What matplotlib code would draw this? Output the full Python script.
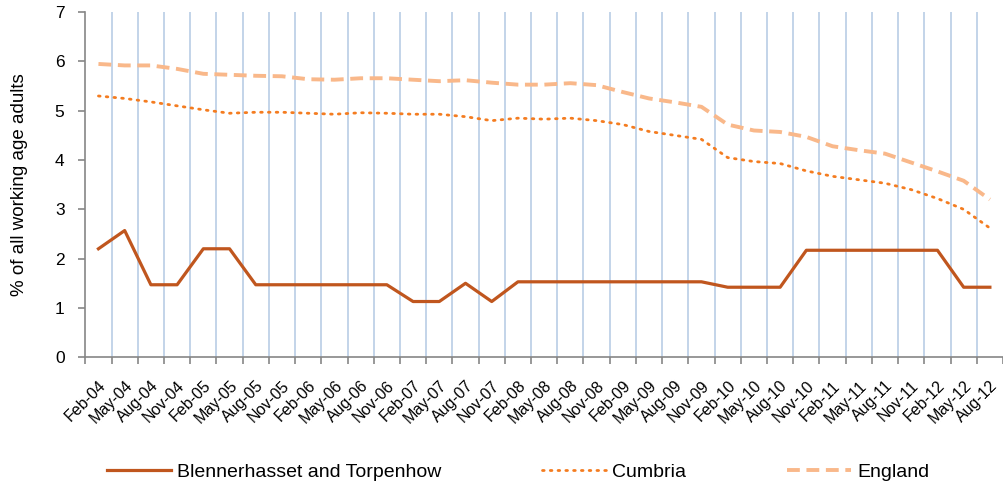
import matplotlib.pyplot as plt
import numpy as np

plt.rcParams['font.family'] = ['Liberation Sans', 'DejaVu Sans']

quarters = ['Feb-04', 'May-04', 'Aug-04', 'Nov-04', 'Feb-05', 'May-05', 'Aug-05', 'Nov-05',
            'Feb-06', 'May-06', 'Aug-06', 'Nov-06', 'Feb-07', 'May-07', 'Aug-07', 'Nov-07',
            'Feb-08', 'May-08', 'Aug-08', 'Nov-08', 'Feb-09', 'May-09', 'Aug-09', 'Nov-09',
            'Feb-10', 'May-10', 'Aug-10', 'Nov-10', 'Feb-11', 'May-11', 'Aug-11', 'Nov-11',
            'Feb-12', 'May-12', 'Aug-12']

blennerhasset = [2.2, 2.57, 1.47, 1.47, 2.2, 2.2, 1.47, 1.47,
                 1.47, 1.47, 1.47, 1.47, 1.13, 1.13, 1.5, 1.13,
                 1.53, 1.53, 1.53, 1.53, 1.53, 1.53, 1.53, 1.53,
                 1.42, 1.42, 1.42, 2.17, 2.17, 2.17, 2.17, 2.17,
                 2.17, 1.42, 1.42]

cumbria = [5.3, 5.25, 5.18, 5.1, 5.02, 4.95, 4.97, 4.97,
           4.95, 4.93, 4.96, 4.95, 4.93, 4.93, 4.88, 4.8,
           4.85, 4.83, 4.85, 4.8, 4.72, 4.58, 4.5, 4.42,
           4.05, 3.97, 3.93, 3.78, 3.67, 3.6, 3.53, 3.4,
           3.22, 3.0, 2.62]

england = [5.95, 5.92, 5.92, 5.85, 5.75, 5.73, 5.71, 5.7,
           5.64, 5.63, 5.66, 5.66, 5.63, 5.6, 5.62, 5.57,
           5.53, 5.53, 5.56, 5.52, 5.38, 5.25, 5.17, 5.08,
           4.72, 4.6, 4.57, 4.47, 4.28, 4.2, 4.13, 3.95,
           3.77, 3.58, 3.2]

fig = plt.figure(figsize=(10.04, 4.88), dpi=100)
ax = fig.add_axes([0.085, 0.268, 0.914, 0.707])

x = np.arange(len(quarters))
ax.plot(x, blennerhasset, color='#C0561E', lw=2.3, label='Blennerhasset and Torpenhow')
ax.plot(x, cumbria, color='#F47C20', lw=2, linestyle=(0, (0.6, 2.2)),
        dash_capstyle='round', label='Cumbria')
ax.plot(x, england, color='#F9B88A', lw=2.8, linestyle=(0, (3.3, 1.7)), label='England')

ax.set_xlim(-0.5, len(quarters) - 0.5)
ax.set_ylim(0, 7)

# gridlines/ticks sit on the category boundaries
bounds = np.arange(0.5, len(quarters) - 0.5, 1)
for b in bounds:
    ax.axvline(b, color='#B9CDE5', lw=1.2, zorder=0)

ax.set_xticks(x)
ax.set_xticklabels(quarters, rotation=45, ha='right', rotation_mode='anchor', fontsize=11.5)
ax.tick_params(axis='x', which='major', length=0, pad=15)
ax.set_xticks(np.arange(-0.5, len(quarters), 1), minor=True)
ax.tick_params(axis='x', which='minor', length=5, color='#868686', width=1.2)
ax.set_yticks(range(8))
ax.tick_params(axis='y', length=5, color='#868686', width=1.2, labelsize=12.5, pad=10)
ax.set_ylabel('% of all working age adults', fontsize=13.5)
ax.yaxis.set_label_coords(-0.063, 0.5)

for s in ['top', 'right']:
    ax.spines[s].set_visible(False)
for s in ['left', 'bottom']:
    ax.spines[s].set_color('#868686')
    ax.spines[s].set_linewidth(1.2)

fig.legend(loc='center', bbox_to_anchor=(0.516, 0.033), ncol=3, frameon=False,
           fontsize=14, handlelength=3.3, columnspacing=5.2, handletextpad=0.3)

fig.savefig('out.png', dpi=100)
